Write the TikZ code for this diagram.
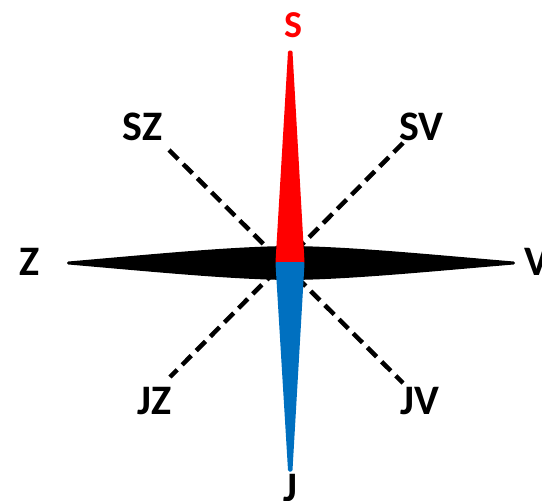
\documentclass[tikz,border=0pt]{standalone}
\usepackage{fontspec}
\setmainfont{Carlito}
\usetikzlibrary{positioning}
\definecolor{needlered}{RGB}{255,0,0}
\definecolor{needleblue}{RGB}{0,112,192}

\begin{document}
\begin{tikzpicture}[
    x=1pt, y=-1pt,
    dirlabel/.style={inner sep=0pt, font=\fontsize{42}{42}\selectfont\bfseries},
    needle/.style={line width=3pt, line join=round},
    diag/.style={line width=4.5pt, dash pattern=on 13pt off 7pt}
]
    \useasboundingbox (0,0) rectangle (542,501);

    % direction labels
    \node[dirlabel, text=needlered, font=\fontsize{38}{38}\selectfont\bfseries] (S) at (293,25) {S};
    \node[dirlabel] (J) at (290,488) {J};
    \node[dirlabel] (Z) at (30,262) {Z};
    \node[dirlabel] (V) at (537,262) {V};
    \node[dirlabel] (SZ) at (142.5,126.5) {SZ};
    \node[dirlabel] (SV) at (421.5,126.5) {SV};
    \node[dirlabel] (JZ) at (154.5,401.5) {JZ};
    \node[dirlabel] (JV) at (420,401) {JV};

    \coordinate (center) at (290,263);
    \coordinate (szend) at (169,150);
    \coordinate (jvend) at (403,383);
    \coordinate (svend) at (403,143);
    \coordinate (jzend) at (170,377);

    % dashed diagonals
    \draw[diag] (szend) -- (jvend);
    \draw[diag] (svend) -- (jzend);

    % horizontal needle
    \filldraw[needle, black] (68.5,263) .. controls (150,256) and (230,248) .. (290,247.5)
        .. controls (350,248) and (430,256) .. (513.5,263)
        .. controls (430,270) and (350,278) .. (290,278.5)
        .. controls (230,278) and (150,270) .. cycle;

    % vertical needle
    \filldraw[needle, needlered] (277,262) -- (289.5,52) -- (291,52) -- (303,262) -- cycle;
    \filldraw[needle, needleblue] (277,263.5) -- (289.5,470) -- (291,470) -- (303,263.5) -- cycle;
\end{tikzpicture}
\end{document}
